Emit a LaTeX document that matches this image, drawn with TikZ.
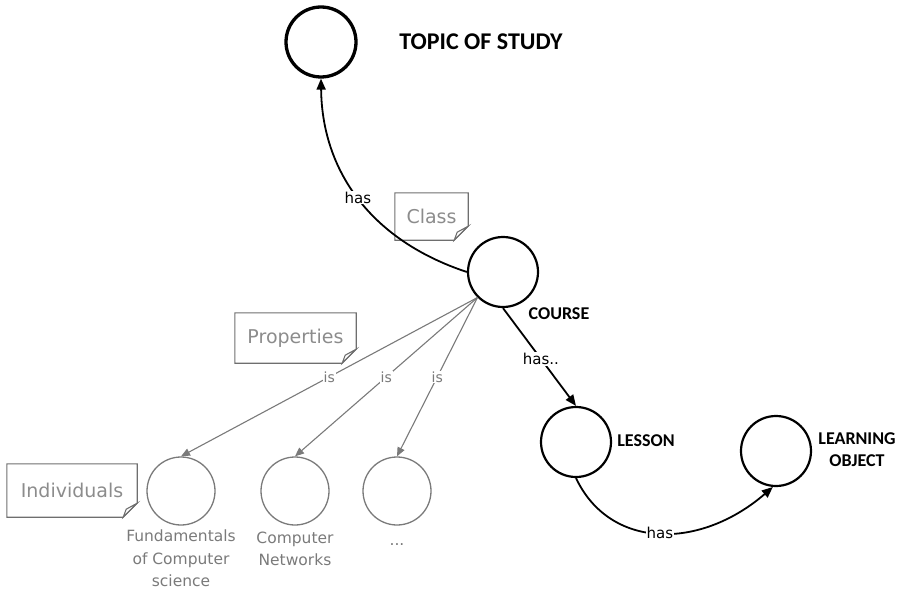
\documentclass[tikz,border=0pt]{standalone}
\usepackage{fontspec}
\setmainfont{DejaVu Sans}
\newfontfamily\conceptfont{Carlito}
\usetikzlibrary{arrows.meta,positioning}
\definecolor{notegray}{HTML}{8C8C8C}
\definecolor{noteline}{HTML}{6E6E6E}
\definecolor{indgray}{HTML}{7A7A7A}
\tikzset{
 concept/.style={circle,draw,line width=2.2pt,minimum size=70pt,inner sep=0pt},
 individual/.style={circle,draw=indgray,line width=1.3pt,minimum size=68pt,inner sep=0pt},
 conceptname/.style={font=\conceptfont\bfseries\fontsize{18}{22}\selectfont,align=center,inner sep=0pt},
 relation/.style={line width=1.8pt,-{Triangle[length=11pt,width=9pt]}},
 relname/.style={fill=white,inner sep=1pt,font=\fontsize{15}{18}\selectfont},
 isarrow/.style={draw=indgray,line width=1.1pt,-{Triangle[length=9pt,width=7.5pt]}},
 isname/.style={fill=white,text=indgray,inner sep=1pt,font=\fontsize{14}{16}\selectfont},
 notetext/.style={text=notegray,inner sep=0pt,font=\fontsize{19}{22}\selectfont},
 notebox/.style={draw=noteline,line width=1.1pt},
 indname/.style={text=indgray,align=center,inner sep=0pt,font=\fontsize{15.5}{22.5}\selectfont}
}
\begin{document}
\begin{tikzpicture}[x=1pt,y=-1pt]
 \useasboundingbox (0,0) rectangle (905,591);
 % concepts
 \node [concept,line width=3.3pt] (topic) at (321,42) {};
 \node [concept] (course) at (503,272) {};
 \node [concept] (lesson) at (576,442) {};
 \node [concept] (lo) at (776,451) {};
 \node [conceptname,font=\conceptfont\bfseries\fontsize{24}{28}\selectfont] (topicname) at (481,42) {TOPIC OF STUDY};
 \node [conceptname] (coursename) at (559,314) {COURSE};
 \node [conceptname] (lessonname) at (646,441) {LESSON};
 \node [conceptname] (loname) at (857,450) {LEARNING\\OBJECT};
 % individuals
 \node [individual] (fcs) at (181,491) {};
 \node [individual] (cn) at (295,491) {};
 \node [individual] (more) at (397,491) {};
 \node [indname,below=4pt of fcs] (fcsname) {Fundamentals\\of Computer\\science};
 \node [indname,below=6pt of cn] (cnname) {Computer\\Networks};
 \node [indname] (morename) at (397,545) {...};
 % notes
 \node [notetext,minimum width=73pt,minimum height=47pt] (classnote) at (431.5,216.5) {Class};
 \node [notetext,minimum width=121pt,minimum height=50pt] (propnote) at (295.5,338) {Properties};
 \node [notetext,minimum width=130pt,minimum height=53pt] (indnote) at (72,490.5) {Individuals};
 \foreach \n in {classnote,propnote,indnote}{
  \draw [notebox] (\n.north west) -- (\n.north east) -- ([yshift=14pt]\n.south east)
   -- ([xshift=-14pt]\n.south east) -- (\n.south west) -- cycle;
  \draw [notebox] ([yshift=14pt]\n.south east) -- ([xshift=-14pt]\n.south east)
   -- ([xshift=-11pt,yshift=8pt]\n.south east) -- cycle;
 }
 % relations
 \draw [relation] (course.west) .. controls (370,240) and (322,170) .. (topic.south)
  node [relname,pos=0.5] (hastopic) {has};
 \draw [relation] (course.south) -- (lesson.north) node [relname,pos=0.52] (haslesson) {has..};
 \draw [relation] (lesson.south) .. controls (610,550) and (700,550) .. (lo.265)
  node [relname,pos=0.5] (haslo) {has};
 \foreach \i in {fcs,cn,more}
  \draw [isarrow] (course.225) -- (\i.north) node [isname,pos=0.5] {is};
\end{tikzpicture}
\end{document}
